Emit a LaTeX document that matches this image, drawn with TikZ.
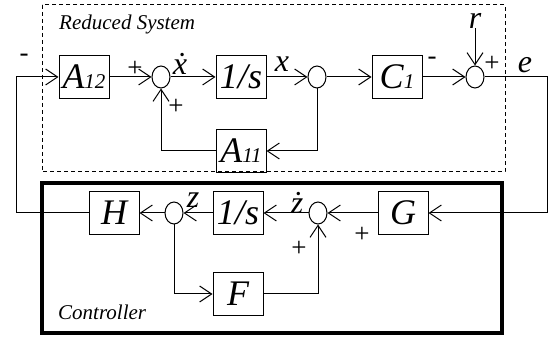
\documentclass[tikz,border=0pt]{standalone}
\usepackage{fontspec}
\setmainfont{Liberation Serif}
\usetikzlibrary{arrows.meta,positioning,shapes.geometric}
\newcommand{\subdig}[1]{{\fontsize{21}{21}\selectfont #1}}

\begin{document}
\begin{tikzpicture}[
  x=1pt, y=-1pt,
  node distance=43pt,
  block/.style={rectangle, draw=black, line width=1pt, minimum width=50pt, minimum height=43pt, inner sep=1pt, align=center, font=\fontsize{36}{38}\selectfont\itshape},
  adder/.style={ellipse, draw=black, line width=1pt, minimum width=18pt, minimum height=22pt, inner sep=0pt},
  sgn/.style={inner sep=0pt, font=\fontsize{27}{27}\selectfont},
  sig/.style={inner sep=0pt, font=\fontsize{32}{32}\selectfont\itshape},
  boxtitle/.style={inner sep=0pt, anchor=west, font=\fontsize{21}{21}\selectfont\itshape},
  line/.style={-{Straight Barb[length=12pt,width=16pt]}, line width=1pt}
]
\useasboundingbox (0,0) rectangle (555,342);
% frames
\draw[line width=1pt, dash pattern=on 4pt off 3pt] (42,5) rectangle (505,172);
\draw[line width=4pt] (42,183) rectangle (502,333);
\node[boxtitle] (rs) at (59,24) {Reduced System};
\node[boxtitle] (ct) at (58,312) {Controller};

% reduced system
\node[block] (A12) at (84,77) {A\subdig{12}};
\node[adder, right=42pt of A12] (s1) {};
\node[block, right=45pt of s1] (intx) {1/s};
\node[adder, right=41pt of intx] (s2) {};
\node[block, right=45pt of s2] (C1) {C\subdig{1}};
\node[adder, right=43pt of C1] (s3) {};
\node[block, below=30pt of intx] (A11) {A\subdig{11}};
\node[sig, above=37pt of s3] (r) {r};
\coordinate (eR) at (547,77);
\coordinate (lc) at (16,77);

% controller
\node[block] (G) at (403,213) {G};
\node[adder, left=50pt of G] (s4) {};
\node[block, left=45pt of s4] (intz) {1/s};
\node[adder, left=29pt of intz] (s5) {};
\node[block, left=25pt of s5] (H) {H};
\node[block, below=37pt of intz] (F) {F};

% signs and signals
\node[sgn] (m1) at (24,58) {-};
\node[sgn] (p1) at (135,69) {+};
\node[sig] (xd) at (180,64) {\.{x}};
\node[sgn] (p2) at (176,107) {+};
\node[sig] (xl) at (282,64) {x};
\node[sgn] (m2) at (432,61) {-};
\node[sgn] (p3) at (492,64) {+};
\node[sig] (el) at (525,65) {e};
\node[sig] (zl) at (193,200) {z};
\node[sig] (zd) at (297,203) {\.{z}};
\node[sgn] (p4) at (362,235) {+};
\node[sgn] (p5) at (299,249) {+};

\draw[line] (A12) -- (s1);
\draw[line] (s1) -- (intx);
\draw[line] (intx) -- (s2);
\draw[line] (s2) -- (C1);
\draw[line] (C1) -- (s3);
\draw[line] (r) -- (s3);
\draw[line] (s3) -- (eR) |- (G);
\draw[line] (s2) |- (A11);
\draw[line] (A11) -| (s1);
\draw[line] (G) -- (s4);
\draw[line] (s4) -- (intz);
\draw[line] (intz) -- (s5);
\draw[line] (s5) -- (H);
\draw[line] (H) -| (lc) -- (A12);
\draw[line] (s5) |- (F);
\draw[line] (F) -| (s4);
\end{tikzpicture}
\end{document}
